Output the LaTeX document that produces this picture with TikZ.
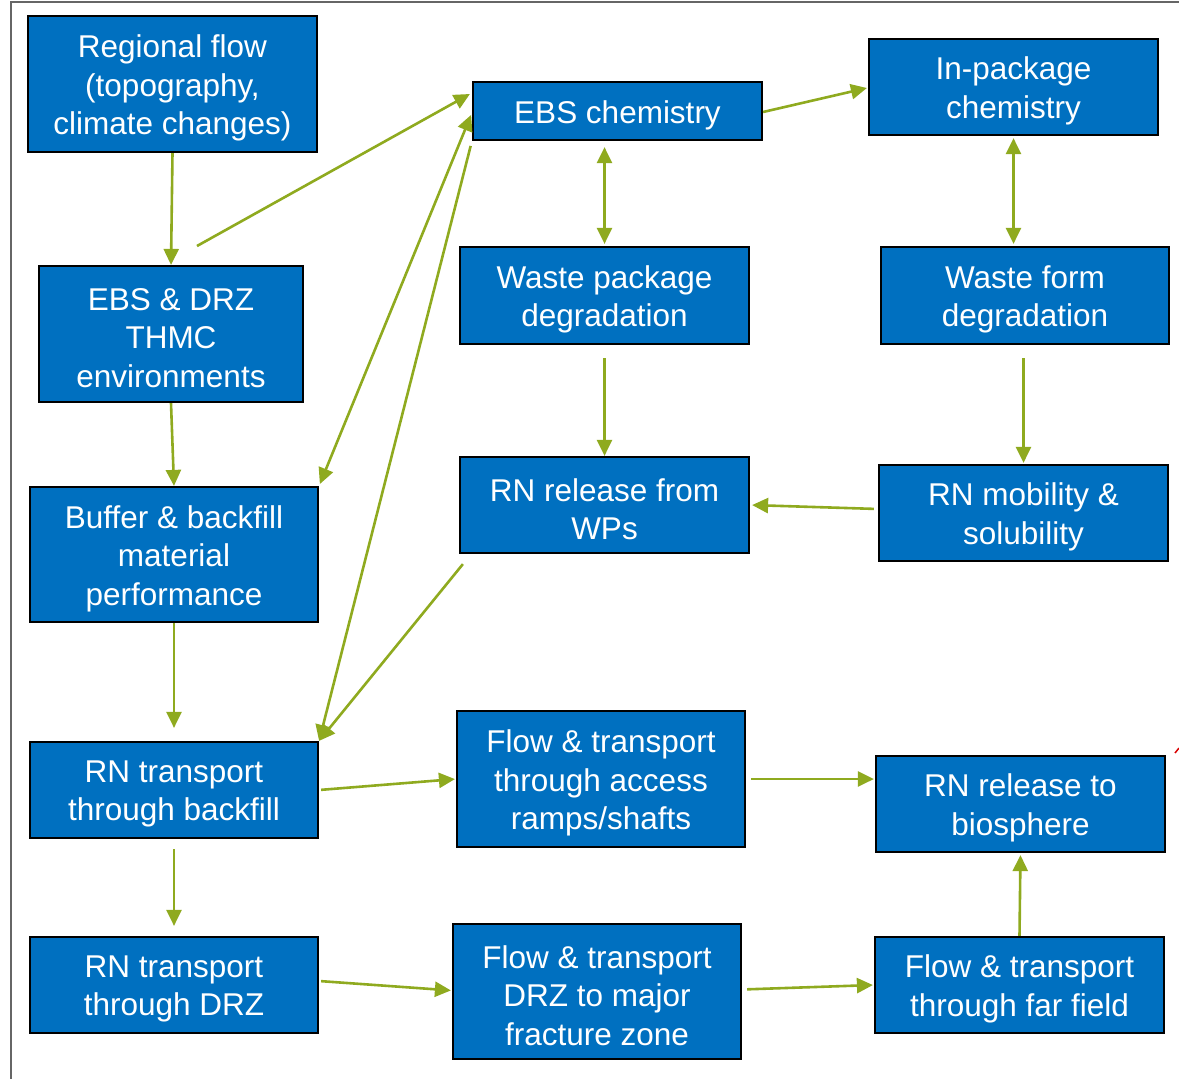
\documentclass[tikz,border=0pt]{standalone}
\usepackage{fontspec}
\setmainfont{Liberation Sans}
\usetikzlibrary{arrows.meta,calc}
\definecolor{boxblue}{HTML}{0070C0}
\definecolor{arrgreen}{HTML}{8FAA1F}
\begin{document}
\begin{tikzpicture}[x=1pt,y=-1pt,
  box/.style={draw=black,line width=2.2pt,fill=boxblue,inner sep=0pt},
  lbl/.style={text=white,align=center,inner sep=0pt,yshift=-4pt,
    font=\fontsize{31.5}{38.5}\selectfont},
  conn/.style={draw=arrgreen,line width=2.6pt,-{Triangle[length=16pt,width=15pt]}},
  conn2/.style={draw=arrgreen,line width=2.6pt,{Triangle[length=16pt,width=15pt]}-{Triangle[length=16pt,width=15pt]}}]
\useasboundingbox (0,0) rectangle (1179,1079);
\draw[gray!80!black,line width=1.3pt] (11,1079) -- (11,2) -- (1179,2);

\node[box,minimum width=289pt,minimum height=136pt,label={[lbl]center:{Regional flow\\(topography,\\climate changes)}}] (reg) at (172.5,84) {};
\node[box,minimum width=289pt,minimum height=58pt,label={[lbl]center:{EBS chemistry}}] (ebs) at (617.5,111) {};
\node[box,minimum width=289pt,minimum height=96pt,label={[lbl]center:{In-package\\chemistry}}] (inpkg) at (1013.5,87) {};
\node[box,minimum width=264pt,minimum height=136pt,label={[lbl]center:{EBS \& DRZ\\THMC\\environments}}] (thmc) at (171,334) {};
\node[box,minimum width=289pt,minimum height=97pt,label={[lbl]center:{Waste package\\degradation}}] (wpd) at (604.5,295.5) {};
\node[box,minimum width=288pt,minimum height=97pt,label={[lbl]center:{Waste form\\degradation}}] (wfd) at (1025,295.5) {};
\node[box,minimum width=288pt,minimum height=135pt,label={[lbl]center:{Buffer \& backfill\\material\\performance}}] (buf) at (174,554.5) {};
\node[box,minimum width=289pt,minimum height=96pt,label={[lbl]center:{RN release from\\WPs}}] (rnw) at (604.5,505) {};
\node[box,minimum width=289pt,minimum height=96pt,label={[lbl]center:{RN mobility \&\\solubility}}] (rnm) at (1023.5,513) {};
\node[box,minimum width=288pt,minimum height=96pt,label={[lbl]center:{RN transport\\through backfill}}] (rnb) at (174,790) {};
\node[box,minimum width=288pt,minimum height=136pt,label={[lbl]center:{Flow \& transport\\through access\\ramps/shafts}}] (fa) at (601,779) {};
\node[box,minimum width=289pt,minimum height=96pt,label={[lbl]center:{RN release to\\biosphere}}] (bio) at (1020.5,804) {};
\node[box,minimum width=288pt,minimum height=96pt,label={[lbl]center:{RN transport\\through DRZ}}] (rnd) at (174,985) {};
\node[box,minimum width=288pt,minimum height=135pt,label={[lbl]center:{Flow \& transport\\DRZ to major\\fracture zone}}] (fd) at (597,991.5) {};
\node[box,minimum width=289pt,minimum height=96pt,label={[lbl]center:{Flow \& transport\\through far field}}] (ff) at (1019.5,985) {};

\coordinate (s1) at (197,246);

\draw[conn] (reg.south) -- (thmc.north);
\draw[conn] (s1) -- ([xshift=-2pt,yshift=17pt]ebs.west);
\draw[conn] ([yshift=-1pt]ebs.east) -- ([xshift=-1pt,yshift=-1pt]inpkg.west);
\draw[conn2,shorten <=6pt,shorten >=2pt] (ebs.south -| wpd.north) -- (wpd.north);
\draw[conn2,shorten <=2pt,shorten >=2pt] (inpkg.south) -- (wfd.north -| inpkg.south);
\draw[conn] (thmc.south) -- (buf.north);
\draw[conn2,shorten <=2pt,shorten >=2pt] ([yshift=-2pt]ebs.west) -- (buf.north east);
\draw[conn,shorten <=5pt] (ebs.south west) -- (rnb.north east);
\draw[conn] ($(rnw.south west)+(4,10)$) -- (rnb.north east);
\draw[conn,shorten <=13pt] (wpd.south) -- (rnw.north);
\draw[conn,shorten <=13pt,shorten >=1pt] (wfd.south -| rnm.north) -- (rnm.north);
\draw[conn,shorten <=4pt,shorten >=2pt] ([yshift=4pt]rnm.west) -- (rnw.east);
\draw[conn,shorten >=13pt] (buf.south) -- (rnb.north);
\draw[conn,shorten <=2pt,shorten >=1pt] (rnb.east) -- (fa.west);
\draw[conn,shorten <=5pt,shorten >=1pt] (fa.east) -- (fa.east -| bio.west);
\draw[conn,shorten <=10pt,shorten >=10pt] (rnb.south) -- (rnd.north);
\draw[conn,shorten <=2pt,shorten >=1pt] ([yshift=4pt]rnd.east) -- ([yshift=1pt]fd.west);
\draw[conn,shorten <=5pt,shorten >=1pt] ([yshift=2pt]fd.east) -- (ff.west);
\draw[conn,shorten >=2pt] (ff.north) -- (bio.south);

\draw[red!85!black,line width=1.5pt] (1175,753) -- (1179,748);
\end{tikzpicture}
\end{document}
